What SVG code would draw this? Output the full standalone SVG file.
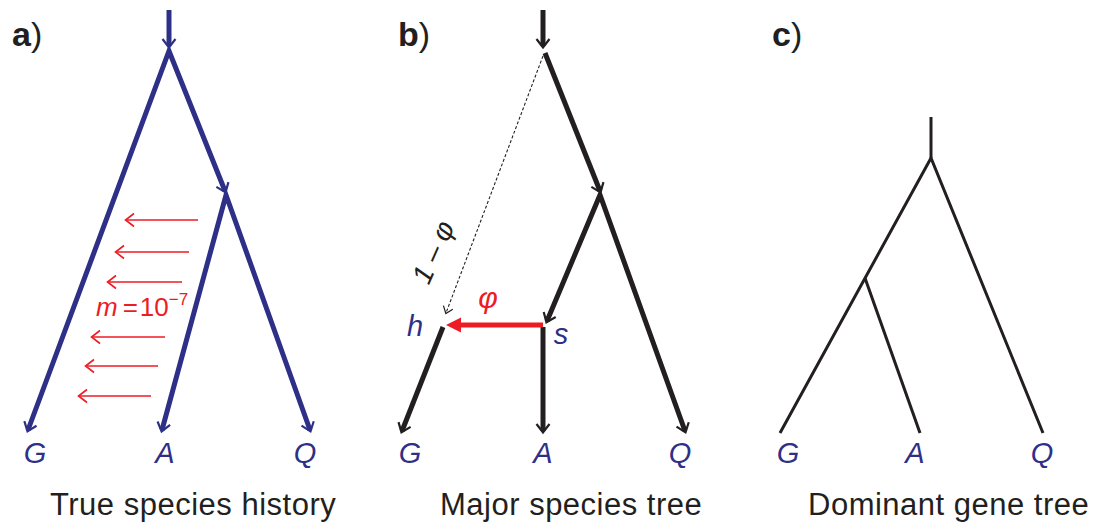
<svg xmlns="http://www.w3.org/2000/svg" width="1094" height="525" viewBox="0 0 1094 525">
<style>
text{font-family:"Liberation Sans",Arial,sans-serif}
.plab{font-size:34px;fill:#231F20}
.leaf{font-size:29px;font-style:italic;fill:#2E3087}
.title{font-size:31px;fill:#231F20;letter-spacing:0.5px}
.navy{fill:none;stroke:#2E3087;stroke-width:5;stroke-linejoin:miter}
.blk{fill:none;stroke:#231F20;stroke-width:5;stroke-linejoin:miter}
.thin{fill:none;stroke:#231F20;stroke-width:3;stroke-linejoin:miter}
.mig{fill:none;stroke:#ED1C24;stroke-width:1.6}
</style>
<defs>
<marker id="hNavy" markerUnits="userSpaceOnUse" markerWidth="20" markerHeight="20" refX="0" refY="0" orient="auto-start-reverse" overflow="visible">
<path d="M-7,-6.5 L1.5,0 L-7,6.5" fill="none" stroke="#2E3087" stroke-width="2.2"/>
</marker>
<marker id="hBlk" markerUnits="userSpaceOnUse" markerWidth="20" markerHeight="20" refX="0" refY="0" orient="auto-start-reverse" overflow="visible">
<path d="M-7,-6.5 L1.5,0 L-7,6.5" fill="none" stroke="#231F20" stroke-width="2.2"/>
</marker>
<marker id="hDash" markerUnits="userSpaceOnUse" markerWidth="20" markerHeight="20" refX="0" refY="0" orient="auto" overflow="visible">
<path d="M-6,-5 L0.5,0 L-6,5" fill="none" stroke="#231F20" stroke-width="1.2"/>
</marker>
<marker id="hRed" markerUnits="userSpaceOnUse" markerWidth="20" markerHeight="20" refX="0" refY="0" orient="auto" overflow="visible">
<path d="M-8,-6.5 L0.5,0 L-8,6.5" fill="none" stroke="#ED1C24" stroke-width="1.6"/>
</marker>
<marker id="hRedFill" markerUnits="userSpaceOnUse" markerWidth="30" markerHeight="30" refX="0" refY="0" orient="auto" overflow="visible">
<path d="M-2,-7.5 L13,0 L-2,7.5 Z" fill="#ED1C24"/>
</marker>
</defs>

<!-- Panel labels -->
<g id="labels">
<text class="plab" x="12" y="46"><tspan font-weight="bold">a</tspan>)</text>
<text class="plab" x="398" y="46"><tspan font-weight="bold">b</tspan>)</text>
<text class="plab" x="772" y="46"><tspan font-weight="bold">c</tspan>)</text>
</g>

<!-- Panel a -->
<g id="connectors-a">
<path class="navy" d="M169,10 L169,46" marker-end="url(#hNavy)"/>
<path class="navy" d="M225,191 L169,51 L28,430" marker-start="url(#hNavy)" marker-end="url(#hNavy)"/>
<path class="navy" d="M162,430 L226,195 L310,430" marker-start="url(#hNavy)" marker-end="url(#hNavy)"/>
<g id="migration">
<path class="mig" d="M198,220 L126,220" marker-end="url(#hRed)"/>
<path class="mig" d="M189,252 L116,252" marker-end="url(#hRed)"/>
<path class="mig" d="M182,282 L108,282" marker-end="url(#hRed)"/>
<path class="mig" d="M165,337 L92,337" marker-end="url(#hRed)"/>
<path class="mig" d="M158,366 L86,366" marker-end="url(#hRed)"/>
<path class="mig" d="M151,396 L79,396" marker-end="url(#hRed)"/>
</g>
</g>
<g id="a-rate"><text x="96" y="316" font-size="26" fill="#ED1C24"><tspan font-style="italic">m</tspan><tspan dx="5">=</tspan><tspan dx="2">10</tspan><tspan dy="-11" font-size="17">−7</tspan></text></g>
<g id="a-G"><text class="leaf" x="35" y="463" text-anchor="middle">G</text></g>
<g id="a-A"><text class="leaf" x="165" y="463" text-anchor="middle">A</text></g>
<g id="a-Q"><text class="leaf" x="305" y="463" text-anchor="middle">Q</text></g>
<g id="a-title"><text class="title" x="50" y="515">True species history</text></g>

<!-- Panel b -->
<g id="connectors-b">
<path class="blk" d="M543,10 L543,46" marker-end="url(#hBlk)"/>
<path class="blk" d="M545,53 L600,191" marker-end="url(#hBlk)"/>
<path d="M543,56 L446,313" fill="none" stroke="#231F20" stroke-width="1.1" stroke-dasharray="3,2" marker-end="url(#hDash)"/>
<path class="blk" d="M547,321 L600,195 L685,431" marker-start="url(#hBlk)" marker-end="url(#hBlk)"/>
<path class="blk" d="M543,327 L543,431" marker-end="url(#hBlk)"/>
<path class="blk" d="M443,327 L402,431" marker-end="url(#hBlk)"/>
<path d="M543,325 L459,325" fill="none" stroke="#ED1C24" stroke-width="5" marker-end="url(#hRedFill)"/>
</g>
<g id="b-h"><text class="leaf" x="415" y="336" text-anchor="middle">h</text></g>
<g id="b-s"><text class="leaf" x="561" y="344" text-anchor="middle">s</text></g>
<g id="b-phi"><text x="488" y="308" font-size="30" font-style="italic" fill="#ED1C24" text-anchor="middle">φ</text></g>
<g id="b-1mphi"><text transform="translate(442,256) rotate(-66)" font-size="28" font-style="italic" fill="#231F20" text-anchor="middle">1 – φ</text></g>
<g id="b-G"><text class="leaf" x="410" y="463" text-anchor="middle">G</text></g>
<g id="b-A"><text class="leaf" x="543" y="463" text-anchor="middle">A</text></g>
<g id="b-Q"><text class="leaf" x="680" y="463" text-anchor="middle">Q</text></g>
<g id="b-title"><text class="title" x="440" y="515">Major species tree</text></g>

<!-- Panel c -->
<g id="connectors-c">
<path class="thin" d="M931,117 L931,158"/>
<path class="thin" d="M780,433 L931,158 L1043,433"/>
<path class="thin" d="M865,278 L920,433"/>
</g>
<g id="c-G"><text class="leaf" x="788" y="463" text-anchor="middle">G</text></g>
<g id="c-A"><text class="leaf" x="915" y="463" text-anchor="middle">A</text></g>
<g id="c-Q"><text class="leaf" x="1042" y="463" text-anchor="middle">Q</text></g>
<g id="c-title"><text class="title" x="808" y="515">Dominant gene tree</text></g>
</svg>
